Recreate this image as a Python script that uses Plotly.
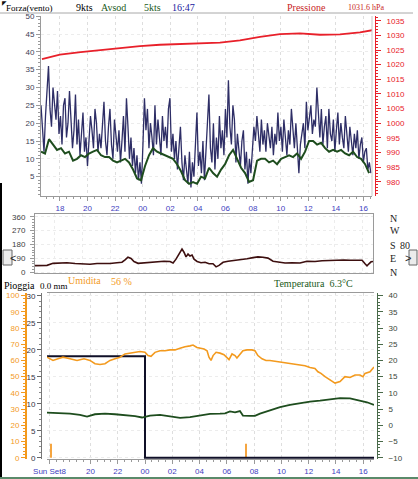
import plotly.graph_objects as go
from datetime import datetime, timedelta

# ---------------- DATA ----------------
BASE = datetime(2013, 9, 8)  # Sunday 8 September

# Wind gust (kts), regular samples
gust_start_h = 16.63
gust_step_min = 6.52
gust_values = [25, 18, 12, 22, 28, 36, 24, 19, 30, 26, 21, 29, 17, 22,
               14, 25, 27, 16, 20, 29, 22, 13, 18, 28, 14, 21, 11,
               19, 23, 12, 16, 8, 14, 22, 18, 13, 24, 20, 12, 17,
               13, 21, 26, 15, 11, 19, 24, 14, 10, 21, 17, 12, 18,
               9, 15, 22, 12, 27, 19, 10, 16, 8, 13, 6, 11, 4, 9,
               3, 14, 27, 18, 24, 13, 20, 16, 11, 25, 14, 21, 17,
               11, 22, 15, 19, 13, 24, 27, 12, 17, 10, 15, 7, 12,
               19, 9, 4, 11, 6, 3, 12, 2, 9, 5, 14, 23, 8, 12,
               6, 15, 4, 11, 18, 28, 13, 9, 20, 7, 16, 10, 22,
               13, 18, 11, 24, 16, 32, 19, 14, 25, 21, 9, 17, 12,
               8, 15, 18, 7, 12, 3, 10, 6, 13, 19, 15, 22, 17, 12,
               21, 14, 18, 12, 20, 16, 13, 19, 11, 17, 14, 23, 15,
               19, 12, 21, 16, 11, 18, 14, 24, 17, 13, 20, 12, 6,
               14, 17, 20, 13, 26, 18, 22, 25, 17, 21, 19, 30, 23, 16,
               24, 14, 19, 22, 13, 24, 17, 15, 21, 12, 18, 23, 14,
               20, 16, 13, 22, 18, 12, 19, 15, 11, 17, 13, 18, 10, 14, 16, 9, 12, 13, 7, 9, 6]

# Wind average (kts), regular samples
avg_start_h = 16.63
avg_step_min = 17.4
avg_values = [12, 11.5, 15.5, 14, 12.5, 13, 11.5, 12, 9.5, 10, 11, 10.5, 11.5, 12, 12.5, 11,
              10.5, 10.5, 9.5, 9, 9.5, 10, 9, 7, 4.5, 4, 8, 11, 13, 12, 11.5, 11, 10.5, 10,
              8.5, 6.5, 4, 3, 3.5, 3, 5, 4.5, 7.5, 6, 5, 7, 8.5, 11, 12.5, 10, 7.5, 6, 3.5, 4,
              9.5, 10, 10, 9, 9.5, 8.5, 10, 10.5, 11, 10.5, 11.5, 10, 12, 15, 15, 14, 14.5,
              13, 12, 12.5, 12, 12.5, 11.5, 11, 12, 10.5, 10, 8.5, 6]

# Pressure (hPa)
pres_hours = [16.7, 18.0, 19.5, 20.9, 22.4, 23.8, 25.25, 27.4, 29.6, 31.05, 32.5, 33.95,
              35.4, 36.85, 38.3, 39.75, 40.7]
pres_values = [1021.9, 1023.4, 1024.3, 1025.0, 1025.8, 1026.3, 1026.8, 1027.2, 1027.5,
               1028.3, 1029.5, 1030.4, 1030.7, 1030.2, 1030.3, 1031.0, 1031.8]

# Wind direction (degrees)
dir_hours = [16.57, 16.93, 17.43, 17.86, 18.36, 18.86, 19.44, 20.01, 20.51, 21.01, 21.51,
             21.94, 22.44, 22.80, 23.02, 23.23, 23.45, 23.66, 23.95, 24.31, 24.81, 25.31,
             25.81, 26.24, 26.46, 26.67, 26.89, 27.10, 27.24, 27.39, 27.53, 27.67, 27.82,
             27.96, 28.18, 28.46, 28.75, 29.04, 29.32, 29.54, 29.75, 30.04, 30.40, 30.75,
             31.25, 31.76, 32.19, 32.54, 32.90, 33.26, 33.62, 33.98, 34.48, 34.98, 35.55,
             36.05, 36.63, 37.13, 37.70, 38.20, 38.70, 39.13, 39.64, 40.00, 40.21, 40.35,
             40.49, 40.64, 40.78]
dir_values = [43, 42, 45, 58, 60, 62, 57, 55, 52, 57, 55, 57, 62, 65, 80, 98, 90, 70, 58,
              60, 65, 70, 72, 70, 60, 85, 120, 150, 130, 100, 118, 105, 112, 85, 70, 62, 65,
              55, 55, 35, 45, 65, 72, 75, 82, 88, 95, 100, 97, 92, 72, 65, 60, 62, 60, 72,
              70, 75, 78, 76, 80, 78, 80, 78, 55, 42, 55, 68, 70]

# Humidity (%)
hum_hours = [16.815, 17.255, 17.622, 17.988, 18.501, 19.015, 19.528, 19.968, 20.334, 20.701,
             21.067, 21.434, 21.801, 22.167, 22.534, 22.900, 23.267, 23.633, 24.0, 24.22,
             24.44, 24.733, 25.1, 25.466, 25.833, 26.2, 26.566, 26.933, 27.3, 27.52, 27.81,
             28.03, 28.33, 28.55, 28.69, 28.84, 28.99, 29.21, 29.5, 29.79, 30.01, 30.16,
             30.38, 30.6, 30.74, 30.96, 31.18, 31.48, 31.84, 32.06, 32.28, 32.58, 32.87,
             33.16, 33.53, 33.9, 34.26, 34.63, 35.0, 35.36, 35.73, 36.1, 36.46, 36.68,
             36.9, 37.2, 37.56, 37.93, 38.3, 38.66, 39.03, 39.4, 39.76, 39.98, 40.13,
             40.5, 40.79]
hum_values = [62, 60, 61, 62, 61, 60, 61, 60, 58, 57.5, 58, 60, 61, 62, 64, 64.5, 65, 65.5,
              65, 63, 62.5, 65, 66, 66, 66.5, 66.5, 67.5, 68.5, 69, 69.5, 68, 67.5, 67, 66,
              62, 60, 63, 65, 64.5, 63.5, 62, 60.5, 64, 63, 61.5, 64, 66, 66.5, 66.5, 66, 63,
              61, 60, 60, 59.5, 59, 58.8, 58.2, 57.7, 57, 56.7, 55.7, 55, 53, 52, 50, 48, 46,
              47, 50, 49.5, 51, 51, 50, 52, 53, 56]

# Temperature (°C)
temp_hours = [16.815, 17.77, 18.50, 19.23, 19.75, 20.33, 21.07, 21.80, 22.53, 23.27, 23.78,
              24.37, 25.10, 25.83, 26.57, 27.30, 28.03, 28.77, 29.50, 29.87, 30.23, 30.60,
              30.96, 31.18, 31.70, 32.06, 32.43, 33.16, 33.90, 34.63, 35.36, 36.10, 36.83,
              37.56, 38.30, 39.03, 39.76, 40.28, 40.79]
temp_values = [3.9, 3.8, 3.6, 3.2, 2.7, 3.4, 3.6, 3.4, 3.2, 2.8, 2.4, 3.0, 3.2, 2.8, 2.3,
               2.5, 2.9, 3.5, 3.6, 3.7, 4.3, 4.0, 4.4, 3.0, 2.9, 2.9, 3.6, 4.7, 5.6, 6.3,
               6.9, 7.3, 7.6, 8.1, 8.4, 8.3, 7.7, 7.1, 6.3]

# Daily rain (mm)
rain_hours = [16.815, 24.0, 40.79]
rain_values = [18.8, 0.0, 0.0]

# Rain rate marks
rate_hours = [17.11, 31.40]
rate_values = [2.6, 2.6]

top_tick_hours = [18, 20, 22, 24, 26, 28, 30, 32, 34, 36, 38, 40]
top_tick_text = ["18", "20", "22", "00", "02", "04", "06", "08", "10", "12", "14", "16"]
bot_tick_hours = [17, 20, 22, 24, 26, 28, 30, 32, 34, 36, 38, 40]
bot_tick_text = ["Sun Set8", "20", "22", "00", "02", "04", "06", "08", "10", "12", "14", "16"]

# ---------------- HELPERS ----------------
W, H = 418, 479


def at(h):
    return BASE + timedelta(hours=h)


def fx(px):
    return px / W


def fy(py):
    return 1 - py / H


gust_t = [at(gust_start_h) + timedelta(minutes=gust_step_min * i) for i in range(len(gust_values))]
avg_t = [at(avg_start_h) + timedelta(minutes=avg_step_min * i) for i in range(len(avg_values))]

NAVY = "#2e2e66"
DGREEN = "#1e4d1e"
RED = "#e8202a"
ORANGE = "#f39a1e"
BLUE = "#4040c0"
GRID = "#dedede"
AXC = "#9a9a9a"
TICKF = dict(family="Liberation Sans, Arial", size=8)

fig = go.Figure()

# top panel
fig.add_trace(go.Scatter(x=gust_t, y=gust_values, mode="lines", xaxis="x", yaxis="y",
                         line=dict(color=NAVY, width=1.3)))
fig.add_trace(go.Scatter(x=avg_t, y=avg_values, mode="lines", xaxis="x", yaxis="y",
                         line=dict(color=DGREEN, width=2)))
fig.add_trace(go.Scatter(x=[at(h) for h in pres_hours], y=pres_values, mode="lines",
                         xaxis="x", yaxis="y2", line=dict(color=RED, width=1.8)))

# middle panel
fig.add_trace(go.Scatter(x=[at(h) for h in dir_hours], y=dir_values, mode="lines",
                         xaxis="x2", yaxis="y3", line=dict(color="#3d0f0f", width=1.6)))

# bottom panel
fig.add_trace(go.Bar(x=[at(h) for h in rate_hours], y=rate_values, xaxis="x3", yaxis="y4",
                     width=300000, marker=dict(color="#f5a540", line=dict(width=0))))
fig.add_trace(go.Scatter(x=[at(h) for h in hum_hours], y=hum_values, mode="lines",
                         xaxis="x3", yaxis="y5", line=dict(color=ORANGE, width=1.6)))
fig.add_trace(go.Scatter(x=[at(h) for h in temp_hours], y=temp_values, mode="lines",
                         xaxis="x3", yaxis="y6", line=dict(color=DGREEN, width=1.8)))
fig.add_trace(go.Scatter(x=[at(h) for h in rain_hours], y=rain_values, mode="lines",
                         xaxis="x3", yaxis="y4", line=dict(color="#101028", width=2, shape="hv")))

half_hour = 30 * 60 * 1000

fig.update_layout(
    template="none",
    width=W, height=H, autosize=False,
    margin=dict(l=0, r=0, t=0, b=0, pad=0),
    paper_bgcolor="white", plot_bgcolor="white",
    showlegend=False,
    xaxis=dict(domain=[fx(41), fx(372)], anchor="y", type="date", automargin=False,
               range=[at(16.63), at(40.62)],
               tickmode="array", tickvals=[at(h) for h in top_tick_hours], ticktext=top_tick_text,
               tickfont=dict(color=BLUE, **TICKF), ticks="outside", ticklen=4, tickcolor=AXC,
               showline=True, linecolor=AXC, showgrid=True, gridcolor=GRID, griddash="dot",
               minor=dict(dtick=half_hour, tick0=at(16.5), ticks="outside", ticklen=2,
                          tickcolor=AXC, showgrid=False),
               zeroline=False),
    yaxis=dict(domain=[fy(196), fy(16)], anchor="x", range=[-0.42, 50.05], automargin=False,
               tickmode="array", tickvals=list(range(5, 51, 5)),
               tickfont=dict(color="#404055", **TICKF), ticks="outside", ticklen=4, tickcolor=AXC,
               showline=True, linecolor=AXC, showgrid=True, gridcolor="#ececec", griddash="dot",
               minor=dict(dtick=1, ticks="outside", ticklen=2, tickcolor=AXC, showgrid=False),
               zeroline=False),
    yaxis2=dict(overlaying="y", side="right", anchor="free", position=fx(375), automargin=False,
                range=[975.2, 1036.6], tickmode="linear", tick0=975, dtick=5,
                tickfont=dict(color=RED, **TICKF), ticks="outside", ticklen=5, tickcolor=RED,
                ticklabelstandoff=4,
                showline=True, linecolor=RED, showgrid=False, zeroline=False,
                minor=dict(dtick=1, ticks="outside", ticklen=2, tickcolor=RED)),
    xaxis2=dict(domain=[fx(35), fx(373)], anchor="y3", type="date", automargin=False,
                range=[at(16.57), at(40.78)], showticklabels=False, ticks="",
                tickmode="array", tickvals=[at(h) for h in top_tick_hours],
                showline=True, mirror=True, linecolor=AXC,
                showgrid=True, gridcolor="#ececec", griddash="dot", zeroline=False),
    yaxis3=dict(domain=[fy(273.3), fy(214)], anchor="x2", range=[-6.5, 377.5], automargin=False,
                tickmode="array", tickvals=[0, 90, 180, 270, 360],
                tickfont=dict(color="#404040", **TICKF), ticks="outside", ticklen=4,
                tickcolor=AXC, ticklabelstandoff=3,
                showline=True, mirror=True, linecolor=AXC,
                showgrid=True, gridcolor="#ececec", griddash="dot", zeroline=False,
                minor=dict(dtick=18, ticks="outside", ticklen=2, tickcolor=AXC, showgrid=False)),
    xaxis3=dict(domain=[fx(47), fx(374)], anchor="y4", type="date", automargin=False,
                range=[at(16.815), at(40.79)],
                tickmode="array", tickvals=[at(h) for h in bot_tick_hours], ticktext=bot_tick_text,
                tickfont=dict(color=BLUE, **TICKF), ticks="outside", ticklen=4, tickcolor=AXC,
                showline=True, mirror=True, linecolor=AXC,
                showgrid=True, gridcolor=GRID, griddash="dot", zeroline=False,
                minor=dict(dtick=half_hour, tick0=at(16.5), ticks="outside", ticklen=2,
                           tickcolor=AXC, showgrid=False)),
    yaxis4=dict(domain=[fy(459), fy(293)], anchor="free", position=fx(41), automargin=False,
                range=[-0.24, 30.5], tickmode="array", tickvals=list(range(0, 31, 5)),
                tickfont=dict(color="#333344", **TICKF), ticks="outside", ticklen=4,
                tickcolor="#666", showline=True, linecolor="#777",
                showgrid=True, gridcolor="#ececec", griddash="dot", zeroline=False,
                minor=dict(dtick=1, ticks="outside", ticklen=2, tickcolor="#888", showgrid=False)),
    yaxis5=dict(overlaying="y4", anchor="free", position=fx(26), side="left", automargin=False,
                range=[-0.8, 101.6], tickmode="array", tickvals=list(range(0, 101, 10)),
                tickfont=dict(color=ORANGE, **TICKF), ticks="outside", ticklen=4,
                tickcolor=ORANGE, showline=True, linecolor=ORANGE, linewidth=2,
                showgrid=False, zeroline=False,
                minor=dict(dtick=2, ticks="outside", ticklen=2, tickcolor=ORANGE)),
    yaxis6=dict(overlaying="y4", anchor="free", position=fx(377), side="right", automargin=False,
                range=[-10.4, 40.8], tickmode="linear", tick0=-10, dtick=5,
                tickfont=dict(color="#3a463a", **TICKF), ticks="outside", ticklen=5,
                tickcolor="#4a6a4a", ticklabelstandoff=4,
                showline=True, linecolor="#4a6a4a", showgrid=False, zeroline=False,
                minor=dict(dtick=1, ticks="outside", ticklen=2, tickcolor="#4a6a4a")),
)

SERIF = "Liberation Serif, Times New Roman, serif"


def label(text, px, py, color="black", size=10):
    fig.add_annotation(text=text, x=fx(px), y=fy(py), xref="paper", yref="paper",
                       xanchor="left", yanchor="middle", showarrow=False,
                       font=dict(family=SERIF, size=size, color=color))


label("Forza(vento)", 4, 8, "black", 9)
label("9kts", 74, 8)
label("Avsod", 99, 8, "#1a5a1a")
label("5kts", 142, 8, "#1a5a1a")
label("16:47", 170, 8, "#2020a0")
label("Pressione", 285, 8, "#c81e1e")
label("1031.6 hPa", 346, 8, "#c81e1e", 8)

for letter, py in zip(["N", "W", "S", "E", "N"], [218, 231, 245, 258, 272]):
    label(letter, 388, py, "#222222")
label("80", 398, 245, "#222222")

label("Pioggia", 2, 285)
label("0.0 mm", 38, 286, "black", 9)
label("Umidita", 66, 280, ORANGE)
label("56 %", 109, 281, ORANGE)
label("Temperatura  6.3°C", 272, 283, "#1a5a1a")

# decorations
shapes = [
    dict(type="line", xref="paper", yref="paper", x0=0, x1=fx(413), y0=fy(13), y1=fy(13),
         line=dict(color="#a8a8a8", width=1)),
    dict(type="line", xref="paper", yref="paper", x0=fx(1), x1=fx(1), y0=fy(183), y1=0,
         line=dict(color="black", width=2)),
    dict(type="line", xref="paper", yref="paper", x0=0, x1=1, y0=fy(478), y1=fy(478),
         line=dict(color="#5a8a6a", width=2)),
    dict(type="rect", xref="paper", yref="paper", x0=fx(3), x1=fx(12), y0=fy(265), y1=fy(250),
         line=dict(color="#666", width=1), fillcolor="#ececec"),
    dict(type="rect", xref="paper", yref="paper", x0=fx(409), x1=fx(417), y0=fy(265), y1=fy(250),
         line=dict(color="#666", width=1), fillcolor="#ececec"),
    dict(type="line", xref="paper", yref="paper", x0=fx(372), x1=fx(372), y0=fy(196), y1=fy(16),
         line=dict(color="#c8c8c8", width=1)),
]
fig.update_layout(shapes=shapes)
fig.add_annotation(text="<", x=fx(7.5), y=fy(257.5), xref="paper", yref="paper", showarrow=False,
                   font=dict(family="Liberation Sans", size=11, color="#222"))
fig.add_annotation(text=">", x=fx(413), y=fy(257.5), xref="paper", yref="paper", showarrow=False,
                   font=dict(family="Liberation Sans", size=11, color="#222"))
fig.add_annotation(text="◤", x=fx(0), y=fy(3), xref="paper", yref="paper", showarrow=False,
                   xanchor="left", yanchor="middle",
                   font=dict(family="DejaVu Sans", size=6, color="#111"))

fig.write_html("out.html", config={"displayModeBar": False},
               post_script="document.body.style.margin='0';document.body.style.padding='0';"
                           "document.documentElement.style.overflow='hidden';")
